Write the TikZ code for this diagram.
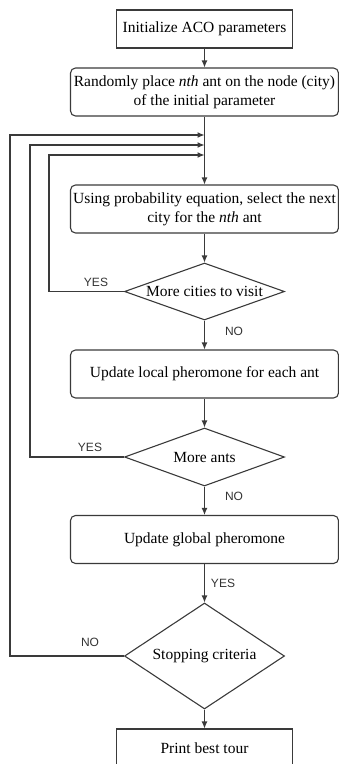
\documentclass[tikz,border=0pt]{standalone}
\usepackage{fontspec}
\setmainfont{Liberation Serif}
\newfontfamily\labelfont{Liberation Sans}
\usetikzlibrary{shapes.geometric,arrows.meta}
\definecolor{linegray}{HTML}{3A3A3A}
\definecolor{labgray}{HTML}{333333}
\begin{document}
\begin{tikzpicture}[x=1pt,y=-1pt,
  line/.style={draw=linegray, line width=1.1pt},
  arr/.style={line, -{Latex[length=7pt,width=6pt]}},
  sqbox/.style={draw=linegray, line width=1.1pt, minimum width=176pt, minimum height=38pt, inner sep=0pt, align=center, font=\fontsize{15.5}{19}\selectfont},
  rbox/.style={sqbox, rounded corners=5pt, minimum width=268pt, minimum height=48pt},
  dec/.style={draw=linegray, line width=1.1pt, diamond, minimum width=160pt, inner sep=0pt, font=\fontsize{15.5}{19}\selectfont},
  lab/.style={font=\labelfont\fontsize{12}{14}\selectfont, text=labgray, inner sep=0pt}
]
\clip (0,0) rectangle (339,764);
\node[sqbox] (b1) at (204.5,29) {Initialize ACO parameters};
\node[rbox] (b2) at (204.5,92) {Randomly place \textit{nth} ant on the node (city)\\of the initial parameter};
\node[rbox] (b3) at (204.5,209) {Using probability equation, select the next\\city for the \textit{nth} ant};
\node[dec, minimum height=57pt, aspect=2.8] (d1) at (204.5,291.5) {More cities to visit};
\node[rbox] (b4) at (204.5,374) {Update local pheromone for each ant};
\node[dec, minimum height=58pt, aspect=2.8] (d2) at (204.5,457) {More ants};
\node[rbox] (b5) at (204.5,539.5) {Update global pheromone};
\node[dec, minimum height=106pt, aspect=1.5] (d3) at (204.5,656) {Stopping criteria};
\node[sqbox, minimum height=38pt] (b6) at (204.5,748) {Print best tour};

\coordinate (j3) at (204.5,135);
\coordinate (j2) at (204.5,145);
\coordinate (j1) at (204.5,155);

\draw[arr] (b1) -- (b2);
\draw[arr] (b2) -- (b3);
\draw[arr] (b3) -- (d1);
\draw[arr] (d1) -- (b4);
\draw[arr] (b4) -- (d2);
\draw[arr] (d2) -- (b5);
\draw[arr] (b5) -- (d3);
\draw[arr] (d3) -- (b6);

\draw[arr] (d1.west) -- (49,291.5) -- (49,155) -- (j1);
\draw[arr] (d2.west) -- (30,457) -- (30,145) -- (j2);
\draw[arr] (d3.west) -- (10,656) -- (10,135) -- (j3);

\node[lab] (y1) at (96,282) {YES};
\node[lab] (n1) at (234,331) {NO};
\node[lab] (y2) at (90,447) {YES};
\node[lab] (n2) at (234,496) {NO};
\node[lab] (y3) at (223,583) {YES};
\node[lab] (n3) at (90,642) {NO};
\end{tikzpicture}
\end{document}
